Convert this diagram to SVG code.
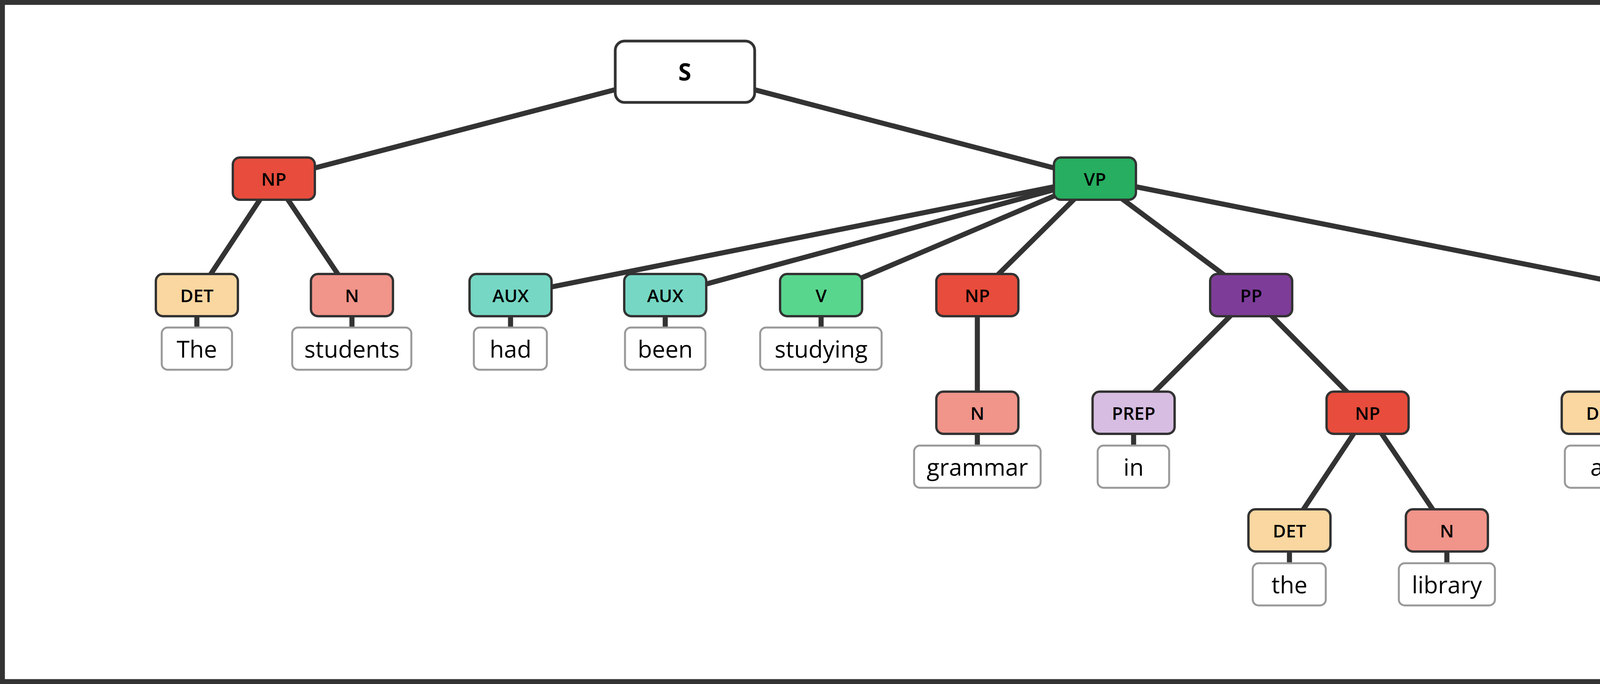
<svg xmlns="http://www.w3.org/2000/svg" width="5135" height="1750" viewBox="0 0 5135 1750">
<style>
.e{stroke:#333;stroke-width:13;fill:none}
.n{stroke:#333;stroke-width:6}
.l{fill:#fff;stroke:#999;stroke-width:5}
.t{font-family:"Open Sans","Noto Sans",sans-serif;font-size:46px;font-weight:600;text-anchor:middle;dominant-baseline:central;fill:#000}
.s{font-size:60px;font-weight:700}
.w{font-family:"Open Sans","Noto Sans",sans-serif;font-size:60px;text-anchor:middle;dominant-baseline:central;fill:#000}
.NP{fill:#e74c3c}.N{fill:#f1948a}.DET{fill:#fad7a0}.AUX{fill:#76d7c4}.V{fill:#58d68d}.VP{fill:#27ae60}.PP{fill:#7d3c98}.PREP{fill:#d7bde2}
</style>
<rect x="6" y="6" width="5123" height="1738" fill="#fff" stroke="#333" stroke-width="13"/>
<g id="connectors">
<line class="e" x1="1753" y1="183" x2="701" y2="457"/>
<line class="e" x1="1753" y1="183" x2="2803" y2="457"/>
<line class="e" x1="701" y1="457" x2="504" y2="755"/>
<line class="e" x1="701" y1="457" x2="901" y2="755"/>
<line class="e" x1="2803" y1="457" x2="1307" y2="755"/>
<line class="e" x1="2803" y1="457" x2="1703" y2="755"/>
<line class="e" x1="2803" y1="457" x2="2102" y2="755"/>
<line class="e" x1="2803" y1="457" x2="2502" y2="755"/>
<line class="e" x1="2803" y1="457" x2="3203" y2="755"/>
<line class="e" x1="2803" y1="457" x2="4303" y2="755"/>
<line class="e" x1="2502" y1="755" x2="2502" y2="1056"/>
<line class="e" x1="3203" y1="755" x2="2902" y2="1056"/>
<line class="e" x1="3203" y1="755" x2="3501" y2="1056"/>
<line class="e" x1="4303" y1="755" x2="4103" y2="1056"/>
<line class="e" x1="4303" y1="755" x2="4500" y2="1056"/>
<line class="e" x1="3501" y1="1056" x2="3301" y2="1357"/>
<line class="e" x1="3501" y1="1056" x2="3704" y2="1357"/>
<line class="e" x1="504" y1="809" x2="504" y2="838"/>
<line class="e" x1="901" y1="809" x2="901" y2="838"/>
<line class="e" x1="1307" y1="809" x2="1307" y2="838"/>
<line class="e" x1="1703" y1="809" x2="1703" y2="838"/>
<line class="e" x1="2102" y1="809" x2="2102" y2="838"/>
<line class="e" x1="2502" y1="1110" x2="2502" y2="1140"/>
<line class="e" x1="2902" y1="1110" x2="2902" y2="1140"/>
<line class="e" x1="4103" y1="1110" x2="4103" y2="1140"/>
<line class="e" x1="4500" y1="1110" x2="4500" y2="1140"/>
<line class="e" x1="3301" y1="1411" x2="3301" y2="1441"/>
<line class="e" x1="3704" y1="1411" x2="3704" y2="1441"/>
</g>
<g id="S"><rect x="1575" y="105" width="357" height="157" rx="24" fill="#fff" stroke="#333" stroke-width="7"/><text class="t s" x="1753" y="183">S</text></g>
<g id="NP1"><rect class="n NP" x="596" y="403" width="210" height="108" rx="18"/><text class="t" x="701" y="457">NP</text></g>
<g id="VP"><rect class="n VP" x="2698" y="403" width="210" height="108" rx="18"/><text class="t" x="2803" y="457">VP</text></g>
<g id="DET1"><rect class="n DET" x="399" y="701" width="210" height="108" rx="18"/><text class="t" x="504" y="755">DET</text></g>
<g id="N1"><rect class="n N" x="796" y="701" width="210" height="108" rx="18"/><text class="t" x="901" y="755">N</text></g>
<g id="AUX1"><rect class="n AUX" x="1202" y="701" width="210" height="108" rx="18"/><text class="t" x="1307" y="755">AUX</text></g>
<g id="AUX2"><rect class="n AUX" x="1598" y="701" width="210" height="108" rx="18"/><text class="t" x="1703" y="755">AUX</text></g>
<g id="V"><rect class="n V" x="1997" y="701" width="210" height="108" rx="18"/><text class="t" x="2102" y="755">V</text></g>
<g id="NP2"><rect class="n NP" x="2397" y="701" width="210" height="108" rx="18"/><text class="t" x="2502" y="755">NP</text></g>
<g id="PP"><rect class="n PP" x="3098" y="701" width="210" height="108" rx="18"/><text class="t" x="3203" y="755">PP</text></g>
<g id="NP3"><rect class="n NP" x="4198" y="701" width="210" height="108" rx="18"/><text class="t" x="4303" y="755">NP</text></g>
<g id="N2"><rect class="n N" x="2397" y="1002" width="210" height="108" rx="18"/><text class="t" x="2502" y="1056">N</text></g>
<g id="PREP"><rect class="n PREP" x="2797" y="1002" width="210" height="108" rx="18"/><text class="t" x="2902" y="1056">PREP</text></g>
<g id="NP4"><rect class="n NP" x="3396" y="1002" width="210" height="108" rx="18"/><text class="t" x="3501" y="1056">NP</text></g>
<g id="DET2"><rect class="n DET" x="3998" y="1002" width="210" height="108" rx="18"/><text class="t" x="4103" y="1056">DET</text></g>
<g id="N3"><rect class="n N" x="4395" y="1002" width="210" height="108" rx="18"/><text class="t" x="4500" y="1056">N</text></g>
<g id="DET3"><rect class="n DET" x="3196" y="1303" width="210" height="108" rx="18"/><text class="t" x="3301" y="1357">DET</text></g>
<g id="N4"><rect class="n N" x="3599" y="1303" width="210" height="108" rx="18"/><text class="t" x="3704" y="1357">N</text></g>
<g id="w-The"><rect class="l" x="414" y="838" width="180" height="108" rx="15"/><text class="w" x="504" y="892">The</text></g>
<g id="w-students"><rect class="l" x="748" y="838" width="305" height="108" rx="15"/><text class="w" x="901" y="892">students</text></g>
<g id="w-had"><rect class="l" x="1213" y="838" width="187" height="108" rx="15"/><text class="w" x="1307" y="892">had</text></g>
<g id="w-been"><rect class="l" x="1600" y="838" width="206" height="108" rx="15"/><text class="w" x="1703" y="892">been</text></g>
<g id="w-studying"><rect class="l" x="1946" y="838" width="311" height="108" rx="15"/><text class="w" x="2102" y="892">studying</text></g>
<g id="w-grammar"><rect class="l" x="2340" y="1140" width="324" height="108" rx="15"/><text class="w" x="2502" y="1194">grammar</text></g>
<g id="w-in"><rect class="l" x="2810" y="1140" width="183" height="108" rx="15"/><text class="w" x="2902" y="1194">in</text></g>
<g id="w-all"><rect class="l" x="4006" y="1140" width="193" height="108" rx="15"/><text class="w" x="4103" y="1194">all</text></g>
<g id="w-afternoon"><rect class="l" x="4330" y="1140" width="341" height="108" rx="15"/><text class="w" x="4500" y="1194">afternoon</text></g>
<g id="w-the"><rect class="l" x="3207" y="1441" width="187" height="108" rx="15"/><text class="w" x="3301" y="1495">the</text></g>
<g id="w-library"><rect class="l" x="3581" y="1441" width="246" height="108" rx="15"/><text class="w" x="3704" y="1495">library</text></g>
</svg>
